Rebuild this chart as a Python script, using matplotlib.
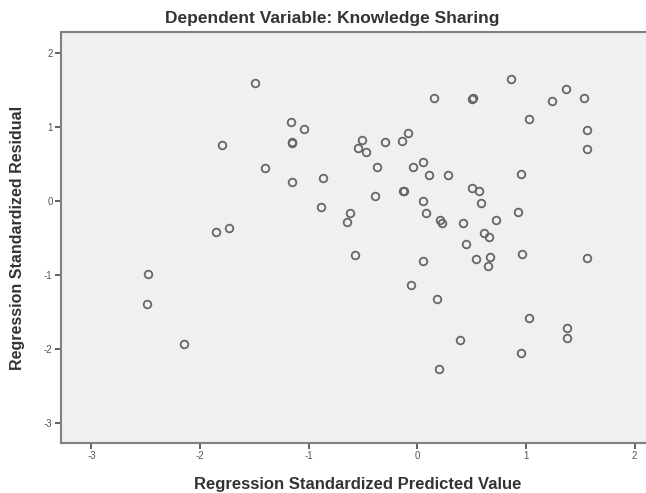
import numpy as np
import matplotlib
matplotlib.use("Agg")
import matplotlib.pyplot as plt

# residuals vs predicted
predicted = [-1.49, -1.16, -1.04, -1.80, -1.15, -1.15, -1.40, -1.15, -0.87, -0.89,
             -0.62, -0.65, -1.85, -1.73, -0.57, -0.51, -0.55, -0.47, -0.30, -0.09,
             -0.14, -0.37, -0.04, 0.05, 0.11, 0.28, 0.95, -0.39, -0.13, -0.12,
             0.50, 0.57, 0.59, 0.05, 0.08, 0.93, 0.21, 0.23, 0.42, 0.72,
             0.61, 0.66, 0.45, 0.05, 0.54, 0.67, 0.65, 0.96, 1.56, -0.06,
             0.18, 1.03, 1.38, 1.38, 0.39, 0.95, 0.20, -2.48, -2.49, -2.15,
             0.86, 0.15, 0.50, 0.51, 1.37, 1.24, 1.53, 1.03, 1.56, 1.56]
residual = [1.60, 1.07, 0.97, 0.76, 0.80, 0.79, 0.45, 0.26, 0.31, -0.08,
            -0.16, -0.28, -0.42, -0.37, -0.73, 0.83, 0.72, 0.66, 0.80, 0.92,
            0.81, 0.46, 0.46, 0.53, 0.35, 0.35, 0.37, 0.07, 0.14, 0.13,
            0.18, 0.14, -0.03, 0.00, -0.16, -0.15, -0.26, -0.30, -0.30, -0.26,
            -0.43, -0.49, -0.58, -0.81, -0.79, -0.76, -0.88, -0.72, -0.77, -1.14,
            -1.33, -1.58, -1.72, -1.85, -1.88, -2.06, -2.27, -0.99, -1.39, -1.94,
            1.65, 1.39, 1.38, 1.39, 1.52, 1.35, 1.39, 1.11, 0.96, 0.70]

ticks = [-3, -2, -1, 0, 1, 2]
tick_labels = ["-3", "-2", "-1", "0", "1", "2"]

plt.rcParams['font.family'] = ['Liberation Sans', 'DejaVu Sans']

fig = plt.figure(figsize=(6.46, 4.93), dpi=100)
ax = fig.add_axes([0.0944, 0.1014, 0.92, 0.8336])
ax.set_facecolor('#f0f0f0')

ax.plot(predicted, residual, 'o', ms=5.5, mfc='none', mec='#666666', mew=1.3)

ax.set_xlim(-3.28, 2.19)
ax.set_ylim(-3.275, 2.287)
ax.set_xticks(ticks)
ax.set_xticklabels(tick_labels)
ax.set_yticks(ticks)
ax.set_yticklabels(tick_labels)
ax.tick_params(direction='out', length=4, width=1.2, color='#444444',
               labelsize=7, labelcolor='#555555', pad=2)

for side in ['left', 'bottom', 'top']:
    ax.spines[side].set_color('#808080')
    ax.spines[side].set_linewidth(1.5)
ax.spines['right'].set_visible(False)

ax.set_xlabel('Regression Standardized Predicted Value', fontsize=12,
              fontweight='bold', color='#333333', labelpad=11)
ax.set_ylabel('Regression Standardized Residual', fontsize=11.5,
              fontweight='bold', color='#333333', labelpad=14)
fig.text(0.514, 0.963, 'Dependent Variable: Knowledge Sharing', fontsize=12.5,
         fontweight='bold', color='#333333', ha='center', va='center')

fig.savefig('out.png', dpi=100)
